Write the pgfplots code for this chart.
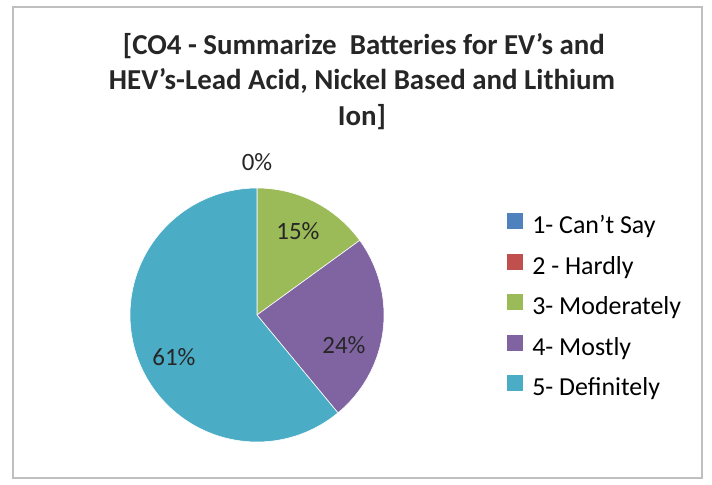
\documentclass[border=0pt]{standalone}
\usepackage{pgfplots}
\pgfplotsset{compat=1.18}
\usepackage{fontspec}
\setmainfont{Carlito}

\definecolor{cblue}{HTML}{4F81BD}
\definecolor{cred}{HTML}{C0504D}
\definecolor{cgreen}{HTML}{9BBB59}
\definecolor{cpurple}{HTML}{8064A2}
\definecolor{caqua}{HTML}{4BACC6}

% slice shares in percent: 0, 0, 15, 24, 61 (clockwise from 12 o'clock)
\newcommand{\cx}{257}
\newcommand{\cy}{170}
\newcommand{\rr}{127}

\begin{document}
\begin{tikzpicture}
\path (0,0) rectangle (712bp,485bp);
\begin{axis}[
  at={(0,0)}, anchor=south west,
  x=1bp, y=1bp,
  xmin=0, xmax=712, ymin=0, ymax=485,
  hide axis, clip=false,
  legend style={
    at={(axis cs:507,272)}, anchor=north west,
    draw=none, fill=none, inner sep=0pt, outer sep=0pt,
    row sep=14bp,
    font=\fontsize{26}{31}\selectfont,
    nodes={inner sep=0pt, text height=19bp, text depth=6bp},
  },
  legend cell align=left,
  legend image code/.code={%
    \path[#1, draw=none] (0bp,-2bp) rectangle (16bp,14bp);
    \path (25bp,6bp);},
]
% frame
\draw[black!25, line width=1.5bp] (axis cs:13,7) rectangle (axis cs:702,478);

\addlegendimage{fill=cblue}
\addlegendentry{1- Can’t Say}
\addlegendimage{fill=cred}
\addlegendentry{2 - Hardly}

\addplot[fill=cgreen, draw=white, line width=0.6bp, samples=60,
  domain={90-3.6*(0+0+15)}:{90-3.6*(0+0)}]
  ({\cx+\rr*cos(x)},{\cy+\rr*sin(x)}) -- (axis cs:\cx,\cy) -- cycle;
\addlegendentry{3- Moderately}
\addplot[fill=cpurple, draw=white, line width=0.6bp, samples=60,
  domain={90-3.6*(0+0+15+24)}:{90-3.6*(0+0+15)}]
  ({\cx+\rr*cos(x)},{\cy+\rr*sin(x)}) -- (axis cs:\cx,\cy) -- cycle;
\addlegendentry{4- Mostly}
\addplot[fill=caqua, draw=white, line width=0.6bp, samples=120,
  domain={90-3.6*(0+0+15+24+61)}:{90-3.6*(0+0+15+24)}]
  ({\cx+\rr*cos(x)},{\cy+\rr*sin(x)}) -- (axis cs:\cx,\cy) -- cycle;
\addlegendentry{5- Definitely}

% data labels
\begin{scope}[every node/.style={font=\fontsize{25}{30}\selectfont, text=black!85, inner sep=0pt}]
\node at (axis cs:257,323) {0\%};
\node at (axis cs:298,254) {15\%};
\node at (axis cs:344,140) {24\%};
\node at (axis cs:174,128) {61\%};
\end{scope}

% title
\begin{scope}[every node/.style={font=\bfseries\fontsize{29}{35}\selectfont, text=black!85, inner sep=0pt, anchor=base}]
\node at (axis cs:364,430) {[CO4 - Summarize\ \ Batteries for EV’s and};
\node at (axis cs:362,395) {HEV’s-Lead Acid, Nickel Based and Lithium};
\node at (axis cs:362,360) {Ion]};
\end{scope}
\end{axis}
\end{tikzpicture}
\end{document}
